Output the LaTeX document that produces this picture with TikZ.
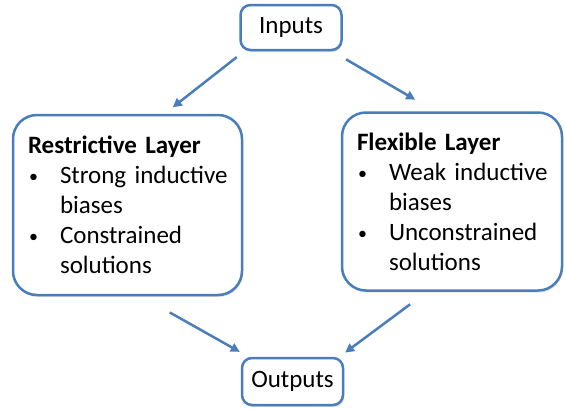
\documentclass[tikz,border=0pt]{standalone}
\usepackage{fontspec}
\setmainfont{Carlito}
\usetikzlibrary{arrows.meta, shadows}

\definecolor{layerblue}{RGB}{74,126,187}

% bullet line with a fixed indent, kept on one line
\newcommand{\bitem}[1]{\mbox{\makebox[32pt][l]{\hspace*{1pt}\raisebox{1pt}{\fontsize{18}{18}\selectfont\textbullet}}#1}}
\newcommand{\bcont}[1]{\mbox{\hspace*{32pt}#1}}

\begin{document}
\begin{tikzpicture}[x=1pt, y=-1pt,
    box/.style={draw=layerblue, line width=2.5pt, fill=white, rounded corners=10pt, align=center, inner sep=0pt, font=\fontsize{25}{30}\selectfont, drop shadow={opacity=0.25, shadow xshift=1pt, shadow yshift=-2pt}},
    layer/.style={box, rounded corners=24pt, align=left, inner xsep=15pt, inner ysep=0pt},
    arrow/.style={-{Triangle[length=9pt, width=9pt]}, draw=layerblue, line width=2.5pt}
]
\fill[white] (0,0) rectangle (565,408);
\useasboundingbox (0,0) rectangle (565,408);

\node[box, minimum width=101pt, minimum height=45pt] (inputs) at (291,27.5) {Inputs};

\node[layer, minimum width=229pt, minimum height=180pt, text width=199pt] (restrict) at (127.5,205) {%
    \mbox{\textbf{Restrictive Layer}}\\
    \bitem{Strong inductive}\\
    \bcont{biases}\\
    \bitem{Constrained}\\
    \bcont{solutions}};

\node[layer, minimum width=220pt, minimum height=178pt, text width=190pt] (flex) at (452,201.5) {%
    \mbox{\textbf{Flexible Layer}}\\
    \bitem{Weak inductive}\\
    \bcont{biases}\\
    \bitem{Unconstrained}\\
    \bcont{solutions}};

\node[box, minimum width=101pt, minimum height=47pt] (outputs) at (292.5,381.5) {Outputs};

\draw[arrow, shorten <=9.5pt, shorten >=10.5pt] ([xshift=5pt]inputs.south west) -- ([xshift=37pt]restrict.north);
\draw[arrow, shorten <=16pt, shorten >=23pt] ([xshift=-10.5pt]inputs.south east) -- ([xshift=-17pt]flex.north);
\draw[arrow, shorten <=33pt, shorten >=10pt] ([xshift=13.5pt]restrict.south) -- ([xshift=-44pt]outputs.north);
\draw[arrow, shorten <=21pt, shorten >=7pt] ([xshift=-25pt]flex.south) -- ([xshift=47pt]outputs.north);
\end{tikzpicture}
\end{document}
